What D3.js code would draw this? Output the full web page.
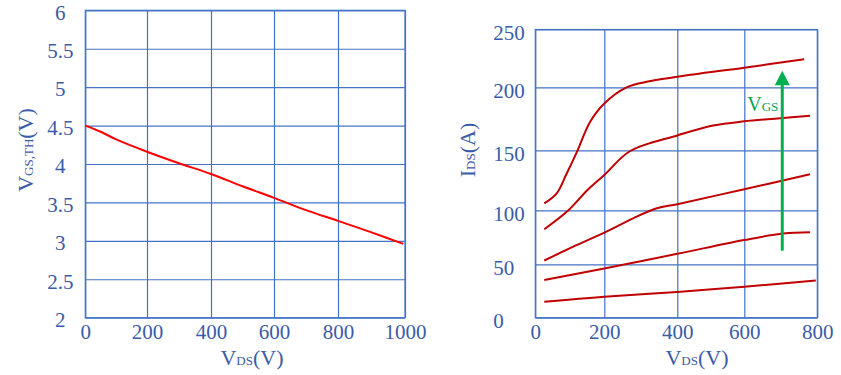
<!DOCTYPE html>
<html><head><meta charset="utf-8">
<script src="https://cdn.jsdelivr.net/npm/d3@7/dist/d3.min.js"></script>
<style>body{margin:0;background:#fff}svg{display:block}</style>
</head><body>
<svg id="c" width="841" height="375"></svg>
<script>
// ---------- data ----------
const leftXTicks = [0, 200, 400, 600, 800, 1000];
const leftYTicks = [2, 2.5, 3, 3.5, 4, 4.5, 5, 5.5, 6];
const vthVds    = [0, 50, 100, 200, 300, 400, 500, 600, 700, 800, 900, 995];
const vthValues = [4.5, 4.42, 4.32, 4.16, 4.01, 3.87, 3.71, 3.56, 3.40, 3.26, 3.11, 2.96];

const rightXTicks = [0, 200, 400, 600, 800];
const rightYTicks = [0, 50, 100, 150, 200, 250];
const curve1Vds = [26, 62, 89, 120, 159, 200, 261, 316, 400, 600, 764];
const curve1Ids = [105.8, 114.2, 129.4, 148.2, 172.7, 187.2, 200, 204.8, 209.1, 217, 224.2];
const curve2Vds = [26, 96, 150, 200, 270, 400, 507, 600, 698, 780];
const curve2Ids = [82.4, 100, 116.5, 129.4, 149.2, 161.8, 169.7, 173, 175.4, 177.5];
const curve3Vds = [26, 110, 200, 279, 344, 400, 600, 780];
const curve3Ids = [53.5, 66.3, 79.3, 92.6, 101.7, 105.1, 117.6, 130];
const curve4Vds = [26, 200, 400, 600, 707, 780];
const curve4Ids = [35.3, 46, 59.7, 72.5, 78.5, 79.6];
const curve5Vds = [26, 200, 400, 600, 796];
const curve5Ids = [15, 19.7, 24.1, 29, 34.8];
const arrowVds = [704, 704];
const arrowIds = [62.6, 214.4];

// ---------- style ----------
const gridC = "#4472C4", textC = "#3a5ca6", font = "Liberation Serif";
const svg = d3.select("#c");

function axisLabel(g, parts) {
  const t = g.append("text").attr("fill", textC).attr("font-family", font).attr("text-anchor", "middle");
  parts.forEach(p => t.append("tspan").attr("font-size", p[1]).text(p[0]));
  return t;
}

// ---------- left chart ----------
const xL = d3.scaleLinear().domain(leftXTicks).range([85.3, 147, 211, 274, 338, 405]);
const yL = d3.scaleLinear().domain([2, 6]).range([317.7, 10.3]);

const gL = svg.append("g");
gL.append("g").attr("transform", "translate(0,317.7)")
  .call(d3.axisBottom(xL).tickValues(leftXTicks).tickSize(-307.4).tickPadding(6).tickFormat(d3.format("d")))
  .call(g => g.select(".domain").remove());
gL.append("g").attr("transform", "translate(85.3,0)")
  .call(d3.axisLeft(yL).tickValues(leftYTicks).tickSize(-319.7).tickFormat(d => String(d)))
  .call(g => g.select(".domain").remove())
  .call(g => g.selectAll("text").attr("text-anchor", "middle").attr("x", -25).attr("y", 2));
gL.append("rect").attr("x", xL(0)).attr("y", yL(6)).attr("width", xL(1000) - xL(0)).attr("height", yL(2) - yL(6))
  .attr("fill", "none").attr("stroke", gridC).attr("stroke-width", 1.2);

gL.append("path").datum(vthVds.map((v, i) => [v, vthValues[i]]))
  .attr("fill", "none").attr("stroke", "#FF0000").attr("stroke-width", 2)
  .attr("d", d3.line().x(d => xL(d[0])).y(d => yL(d[1])).curve(d3.curveCatmullRom.alpha(0.5)));

axisLabel(gL, [["V", 22], ["DS", 13], ["(V)", 22]]).attr("x", 252).attr("y", 365);
axisLabel(gL, [["V", 22], ["GS,TH", 13], ["(V)", 22]]).attr("transform", "translate(33,150) rotate(-90)");

// ---------- right chart ----------
const xR = d3.scaleLinear().domain(rightXTicks).range([535.3, 604.3, 677.3, 744.3, 817.3]);
const yR = d3.scaleLinear().domain(rightYTicks).range([317.7, 264.3, 210.3, 150.3, 87.3, 29.5]);

const gR = svg.append("g");
gR.append("g").attr("transform", "translate(0,317.7)")
  .call(d3.axisBottom(xR).tickValues(rightXTicks).tickSize(-288.2).tickPadding(6).tickFormat(d3.format("d")))
  .call(g => g.select(".domain").remove());
gR.append("g").attr("transform", "translate(535.3,0)")
  .call(d3.axisLeft(yR).tickValues(rightYTicks).tickSize(-282).tickFormat(d3.format("d")))
  .call(g => g.select(".domain").remove())
  .call(g => g.selectAll("text").attr("text-anchor", "start").attr("x", -42).attr("y", 3));
gR.append("rect").attr("x", xR(0)).attr("y", yR(250)).attr("width", xR(800) - xR(0)).attr("height", yR(0) - yR(250))
  .attr("fill", "none").attr("stroke", gridC).attr("stroke-width", 1.2);

const curves = [[curve1Vds, curve1Ids], [curve2Vds, curve2Ids], [curve3Vds, curve3Ids], [curve4Vds, curve4Ids], [curve5Vds, curve5Ids]];
const lineR = d3.line().x(d => xR(d[0])).y(d => yR(d[1])).curve(d3.curveCatmullRom.alpha(0.5));
gR.selectAll("path.ids").data(curves.map(c => c[0].map((v, i) => [v, c[1][i]])))
  .join("path").attr("class", "ids")
  .attr("fill", "none").attr("stroke", "#C00000").attr("stroke-width", 2).attr("d", lineR);

// arrow
const ax = xR(arrowVds[0]), ay0 = yR(arrowIds[0]), ay1 = yR(arrowIds[1]);
gR.append("line").attr("x1", ax).attr("x2", ax).attr("y1", ay0).attr("y2", ay1 + 12)
  .attr("stroke", "#00B050").attr("stroke-width", 3);
gR.append("path").attr("d", `M${ax},${ay1} L${ax - 7.5},${ay1 + 14.5} L${ax + 7.5},${ay1 + 14.5} Z`).attr("fill", "#00B050");
const vg = gR.append("text").attr("fill", "#00A550").attr("font-family", font).attr("text-anchor", "end")
  .attr("x", ax - 4).attr("y", 111);
vg.append("tspan").attr("font-size", 20).text("V");
vg.append("tspan").attr("font-size", 13).text("GS");

axisLabel(gR, [["V", 22], ["DS", 13], ["(V)", 22]]).attr("x", 697).attr("y", 365);
axisLabel(gR, [["I", 22], ["DS", 13], ["(A)", 22]]).attr("transform", "translate(474.5,150) rotate(-90)");

// common tick styling
svg.selectAll(".tick line").attr("stroke", gridC).attr("stroke-width", 1.2);
svg.selectAll(".tick text").attr("fill", textC).attr("font-family", font).attr("font-size", 21);
</script>
</body></html>
